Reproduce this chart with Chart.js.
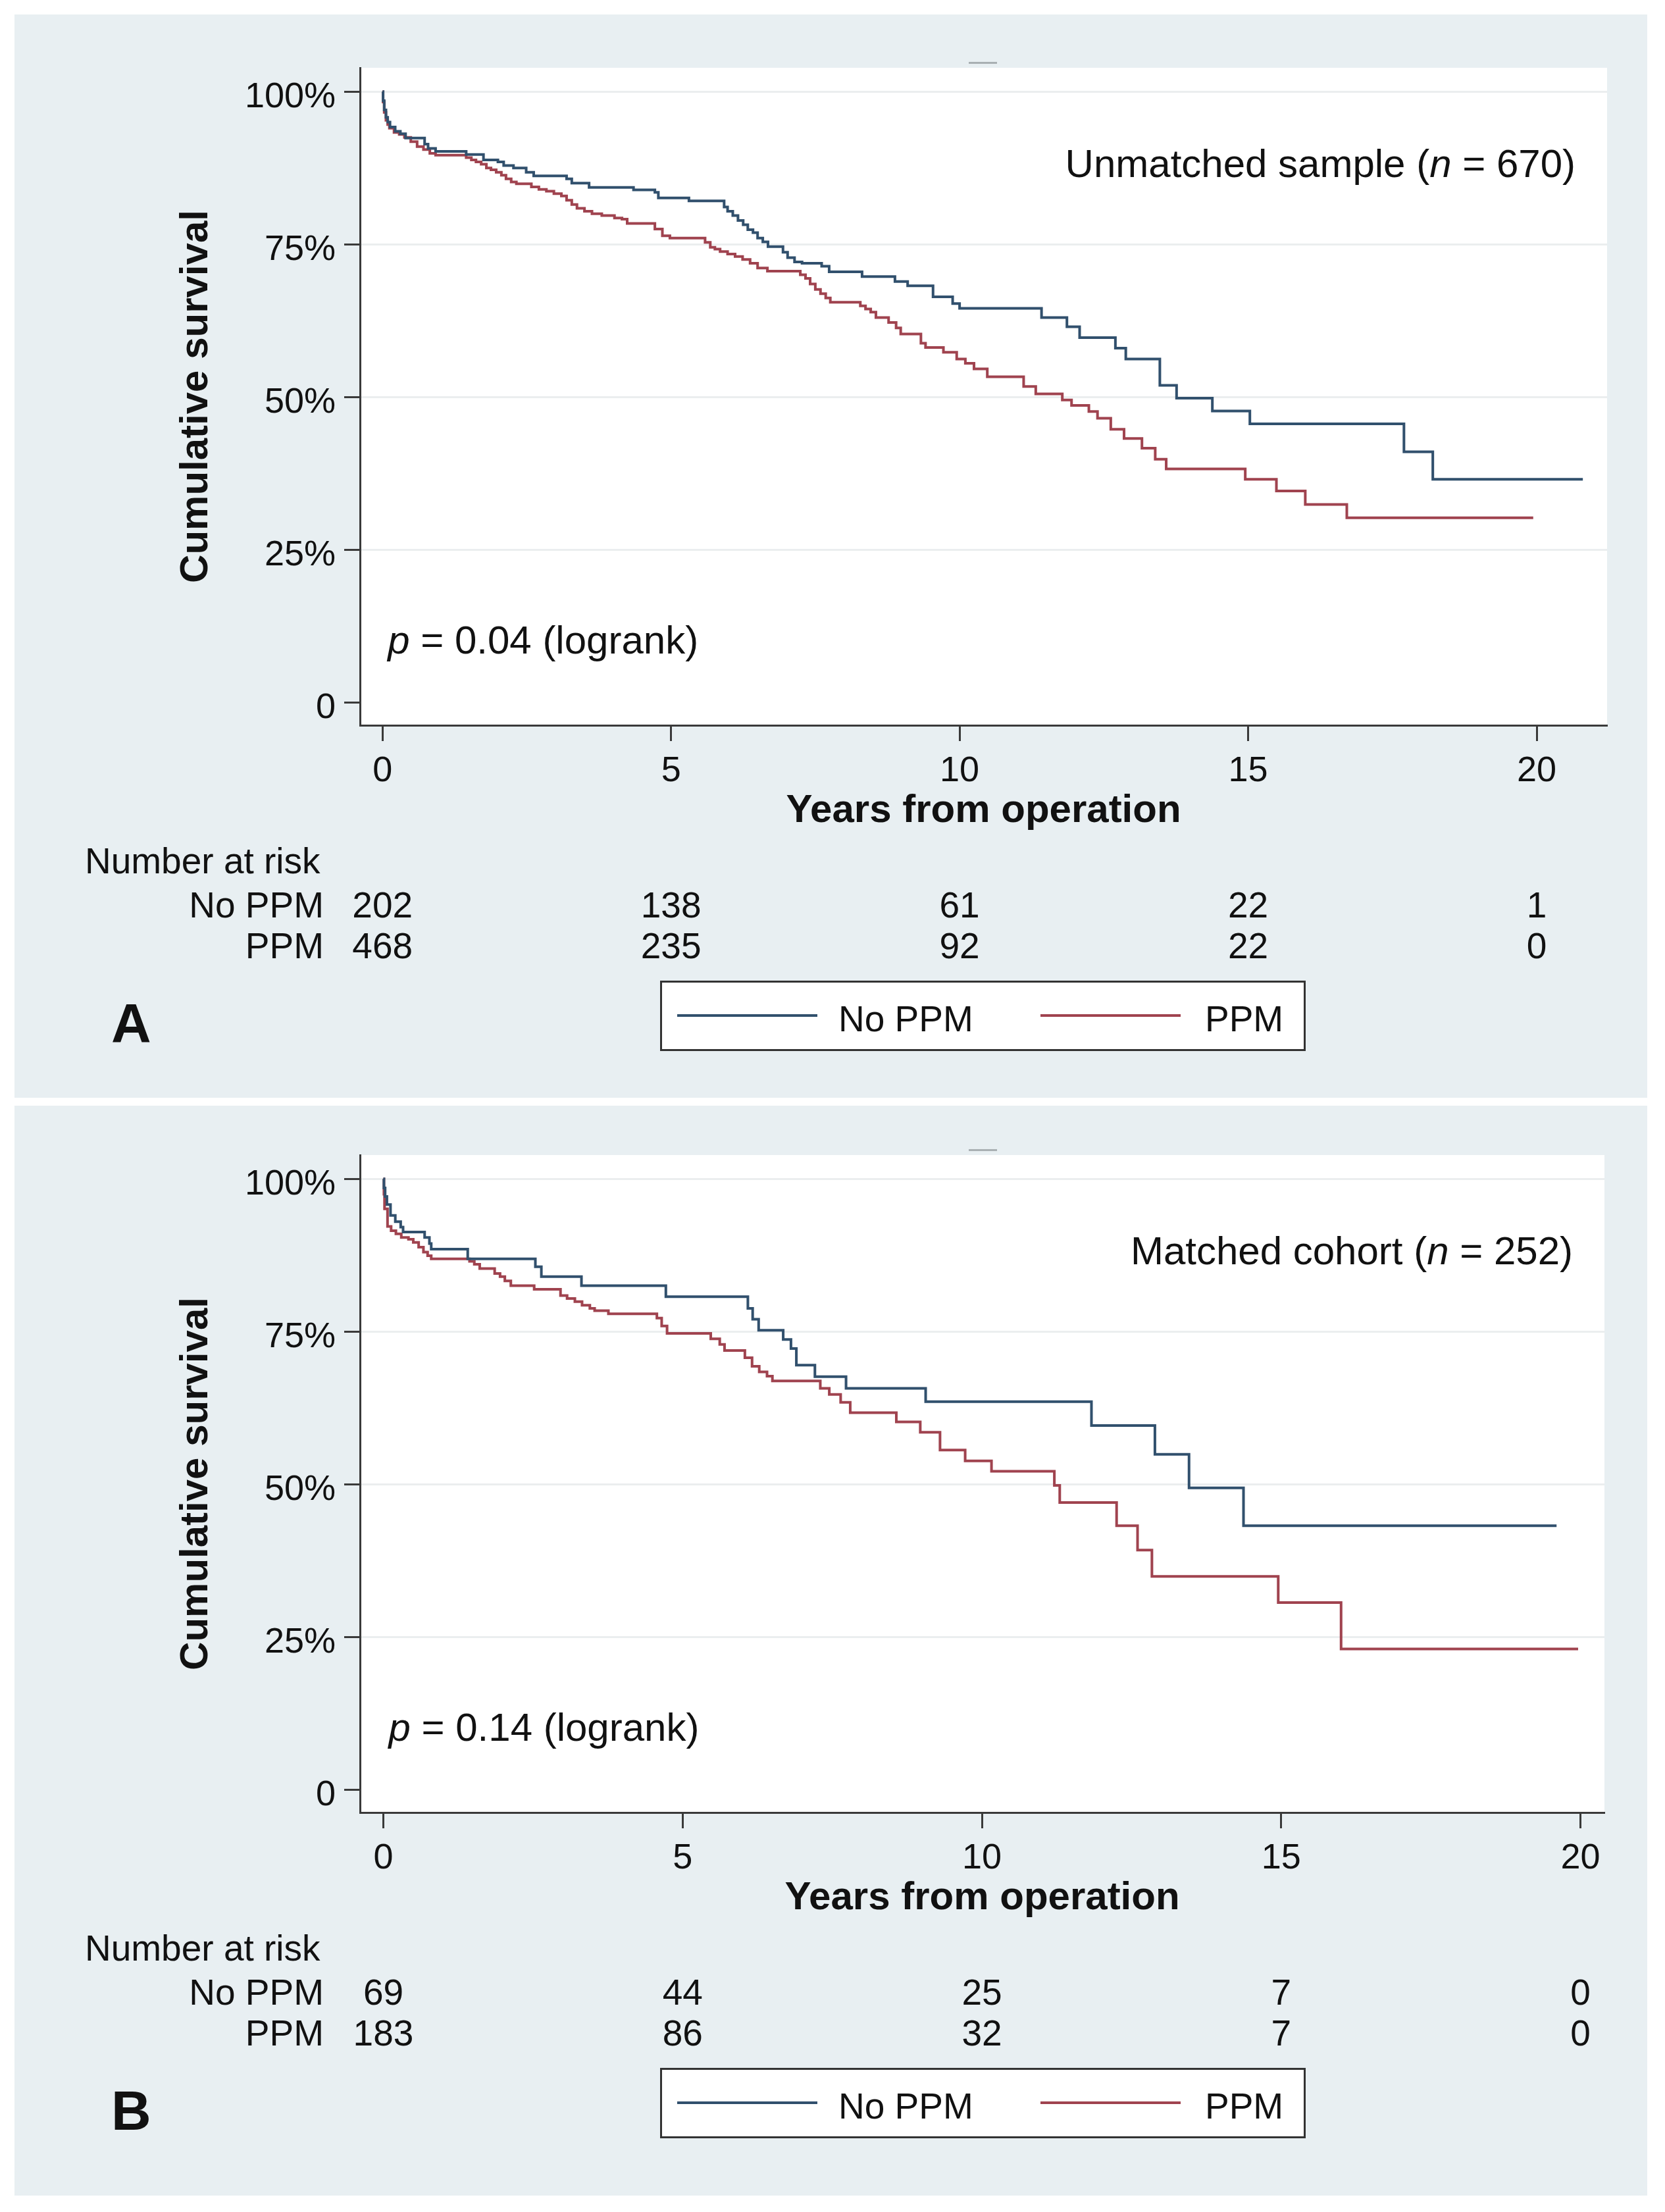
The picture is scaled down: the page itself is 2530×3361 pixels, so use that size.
<!DOCTYPE html>
<html>
<head>
<meta charset="utf-8">
<script src="https://cdn.jsdelivr.net/npm/chart.js@4"></script>
<style>
  html, body { margin:0; padding:0; background:#ffffff; }
  body { width:2530px; height:3361px; position:relative; overflow:hidden; font-family:'Liberation Sans', Arial, sans-serif; color:#111; }
  .panel { position:absolute; left:22px; width:2481px; background:#e8eff2; }
  canvas { position:absolute; left:0; }
  .t { position:absolute; white-space:nowrap; }
  .legend { position:absolute; background:#fff; border:3px solid #333; box-sizing:border-box; }
  .dash { position:absolute; height:3px; background:#a9b0b3; }
</style>
</head>
<body>
<div class="panel" style="top:22px;height:1646px"></div>
<div class="panel" style="top:1680px;height:1656px"></div>
<canvas id="cA" width="2530" height="1674" style="top:0px;width:2530px;height:1674px"></canvas>
<canvas id="cB" width="2530" height="1674" style="top:1652px;width:2530px;height:1674px"></canvas>
<script>
// ---------- data ----------
const xTicks = [0, 5, 10, 15, 20];
const yTicks = [0, 25, 50, 75, 100];
const yTickLabels = ['0', '25%', '50%', '75%', '100%'];
const groupNames = ['No PPM', 'PPM'];

// Panel A: unmatched sample (years, cumulative survival %)
const tA_noPPM = [0, 0.01, 0.03, 0.06, 0.09, 0.13, 0.22, 0.31, 0.4, 0.73, 0.79, 0.92, 1.45, 1.75, 2.0, 2.1, 2.27, 2.49, 2.62, 3.19, 3.28, 3.58, 4.35, 4.72, 4.78, 5.31, 5.92, 5.98, 6.07, 6.16, 6.25, 6.33, 6.42, 6.5, 6.59, 6.68, 6.94, 7.02, 7.14, 7.27, 7.61, 7.74, 8.31, 8.88, 9.1, 9.54, 9.88, 10.0, 11.42, 11.86, 12.08, 12.7, 12.88, 13.47, 13.76, 14.38, 15.03, 17.7, 18.2, 20.8];
const sA_noPPM = [100, 98.5, 97.0, 95.8, 95.0, 94.2, 93.5, 93.1, 92.4, 91.4, 90.7, 90.2, 89.7, 88.8, 88.5, 87.9, 87.5, 86.8, 86.2, 85.7, 85.0, 84.3, 83.9, 83.5, 82.6, 82.1, 81.1, 80.4, 79.7, 78.9, 78.2, 77.4, 76.9, 76.0, 75.4, 74.6, 73.7, 72.8, 72.1, 71.9, 71.4, 70.5, 69.7, 68.9, 68.2, 66.4, 65.3, 64.5, 63.0, 61.5, 59.7, 58.0, 56.2, 51.9, 49.8, 47.7, 45.6, 41.0, 36.5, 36.5];
const tA_PPM = [0, 0.01, 0.03, 0.06, 0.09, 0.12, 0.2, 0.29, 0.38, 0.49, 0.6, 0.71, 0.82, 0.92, 1.45, 1.54, 1.62, 1.71, 1.8, 1.88, 1.97, 2.06, 2.14, 2.23, 2.32, 2.58, 2.71, 2.84, 2.97, 3.1, 3.19, 3.28, 3.37, 3.5, 3.63, 3.8, 4.02, 4.15, 4.24, 4.72, 4.85, 4.98, 5.59, 5.68, 5.76, 5.85, 5.98, 6.11, 6.24, 6.37, 6.5, 6.67, 7.24, 7.33, 7.41, 7.5, 7.59, 7.68, 7.76, 8.28, 8.37, 8.46, 8.55, 8.77, 8.9, 8.98, 9.33, 9.41, 9.72, 9.95, 10.1, 10.25, 10.48, 11.11, 11.32, 11.78, 11.94, 12.24, 12.39, 12.62, 12.85, 13.16, 13.39, 13.58, 14.95, 15.49, 15.99, 16.71, 19.94];
const sA_PPM = [100, 98.3, 96.6, 95.3, 94.6, 94.0, 93.3, 93.0, 92.5, 91.8, 91.0, 90.5, 89.9, 89.6, 89.2, 88.8, 88.5, 88.1, 87.5, 87.2, 86.8, 86.3, 85.7, 85.2, 84.9, 84.4, 84.0, 83.7, 83.3, 82.9, 82.2, 81.5, 80.9, 80.4, 80.0, 79.7, 79.3, 79.1, 78.4, 77.5, 76.4, 76.0, 75.3, 74.5, 74.2, 73.8, 73.4, 73.0, 72.5, 71.9, 71.1, 70.6, 70.0, 69.4, 68.5, 67.6, 66.9, 66.2, 65.5, 64.9, 64.4, 63.9, 63.0, 62.2, 61.3, 60.3, 58.8, 58.1, 57.3, 56.2, 55.5, 54.6, 53.3, 51.7, 50.5, 49.5, 48.6, 47.6, 46.5, 44.7, 43.2, 41.6, 39.8, 38.2, 36.5, 34.6, 32.4, 30.2, 30.2];

// Panel B: matched cohort
const tB_noPPM = [0, 0.01, 0.03, 0.06, 0.12, 0.2, 0.29, 0.33, 0.69, 0.77, 0.8, 1.41, 2.54, 2.64, 3.31, 4.72, 6.09, 6.17, 6.27, 6.68, 6.81, 6.9, 7.21, 7.73, 9.06, 11.83, 12.89, 13.46, 14.37, 19.6];
const sB_noPPM = [100, 98.5, 97.1, 95.8, 94.0, 93.0, 92.1, 91.3, 90.4, 89.4, 88.5, 86.9, 85.6, 84.0, 82.5, 80.7, 78.8, 77.0, 75.2, 73.7, 72.2, 69.5, 67.6, 65.7, 63.5, 59.6, 54.9, 49.4, 43.2, 43.2];
const tB_PPM = [0, 0.01, 0.02, 0.07, 0.13, 0.21, 0.3, 0.42, 0.5, 0.59, 0.67, 0.74, 0.8, 1.44, 1.52, 1.61, 1.86, 1.95, 2.03, 2.13, 2.52, 2.96, 3.07, 3.2, 3.32, 3.45, 3.53, 3.76, 4.57, 4.65, 4.74, 5.47, 5.62, 5.7, 6.04, 6.16, 6.28, 6.41, 6.5, 7.3, 7.45, 7.64, 7.8, 8.57, 8.97, 9.3, 9.72, 10.16, 11.21, 11.3, 12.25, 12.6, 12.84, 14.95, 16.0, 19.96];
const sB_PPM = [100, 97.5, 95.1, 92.2, 91.5, 91.0, 90.4, 90.1, 89.6, 88.8, 88.0, 87.4, 86.9, 86.5, 86.0, 85.3, 84.5, 84.0, 83.3, 82.5, 81.9, 80.9, 80.4, 79.9, 79.3, 78.8, 78.4, 77.9, 77.2, 75.9, 74.7, 73.8, 72.9, 71.9, 70.7, 69.3, 68.4, 67.7, 66.9, 65.7, 64.7, 63.4, 61.7, 60.2, 58.5, 55.6, 53.8, 52.1, 49.8, 47.0, 43.2, 39.2, 34.9, 30.6, 23.0, 23.0];

// Number at risk at the x ticks
const riskA_noPPM = [202, 138, 61, 22, 1];
const riskA_PPM = [468, 235, 92, 22, 0];
const riskB_noPPM = [69, 44, 25, 7, 0];
const riskB_PPM = [183, 86, 32, 7, 0];

// ---------- style ----------
const FONT = "'Liberation Sans', Arial, Helvetica, sans-serif";
const BLUE = '#31506d';
const RED = '#a0434f';
const AX = '#3a3a3a';
const GRID = '#ebeeef';
const TXT = '#111111';

const plotBg = {
  id: 'plotBg',
  beforeDraw(chart) {
    const { ctx, chartArea: a } = chart;
    ctx.save();
    ctx.fillStyle = '#ffffff';
    ctx.fillRect(a.left, a.top, a.right - a.left, a.bottom - a.top);
    ctx.restore();
  }
};

function pts(t, s) { return t.map((v, i) => ({ x: v, y: s[i] })); }

function addText(html, o) {
  const d = document.createElement('div');
  d.className = 't';
  d.innerHTML = html;
  const size = o.size || 55;
  d.style.fontSize = size + 'px';
  d.style.lineHeight = (size * 1.2) + 'px';
  d.style.top = (o.cy - size * 0.6) + 'px';
  if (o.weight) d.style.fontWeight = o.weight;
  if (o.align === 'right') { d.style.right = (2530 - o.x) + 'px'; d.style.textAlign = 'right'; }
  else if (o.align === 'center') { d.style.left = (o.x - 300) + 'px'; d.style.width = '600px'; d.style.textAlign = 'center'; }
  else { d.style.left = o.x + 'px'; }
  document.body.appendChild(d);
  return d;
}

function makePanel(p) {
  const chart = new Chart(document.getElementById(p.canvas), {
    type: 'line',
    data: {
      datasets: [
        { label: groupNames[0], data: pts(p.t0, p.s0), borderColor: BLUE, backgroundColor: BLUE, borderWidth: 4, pointRadius: 0, stepped: true, fill: false },
        { label: groupNames[1], data: pts(p.t1, p.s1), borderColor: RED, backgroundColor: RED, borderWidth: 4, pointRadius: 0, stepped: true, fill: false }
      ]
    },
    options: {
      responsive: false,
      animation: false,
      devicePixelRatio: 1,
      events: [],
      layout: { padding: { left: 0, right: p.padRight, top: 103, bottom: 1674 - 1268 } },
      plugins: { legend: { display: false }, tooltip: { enabled: false } },
      scales: {
        x: {
          type: 'linear', min: -0.39, max: p.xMax,
          afterBuildTicks: s => { s.ticks = xTicks.map(v => ({ value: v })); },
          afterFit: s => { s.height = 166; },
          grid: { drawOnChartArea: false, drawTicks: true, tickLength: 24, tickColor: AX, tickWidth: 3 },
          border: { display: true, color: AX, width: 3 },
          ticks: { font: { family: FONT, size: 54 }, color: TXT, padding: 14, maxRotation: 0, autoSkip: false, callback: v => String(v) },
          title: { display: true, text: 'Years from operation', color: TXT, font: { family: FONT, size: 60, weight: 'bold' }, padding: { top: 0, bottom: 0 } }
        },
        y: {
          type: 'linear', min: -3.77, max: 103.9,
          afterBuildTicks: s => { s.ticks = yTicks.map(v => ({ value: v })); },
          afterFit: s => { s.width = 547; },
          grid: {
            color: c => (c.tick && c.tick.value === 0) ? 'rgba(0,0,0,0)' : GRID,
            lineWidth: 3, drawTicks: true, tickLength: 24, tickColor: AX, tickWidth: 3
          },
          border: { display: true, color: AX, width: 3 },
          ticks: { font: { family: FONT, size: 54 }, color: TXT, padding: 13, labelOffset: 9, autoSkip: false, callback: v => yTickLabels[yTicks.indexOf(v)] },
          title: { display: true, text: 'Cumulative survival', color: TXT, font: { family: FONT, size: 60, weight: 'bold' }, padding: { top: 262, bottom: 0 } }
        }
      }
    },
    plugins: [plotBg]
  });

  const oy = p.top;
  const a = chart.chartArea;
  const xs = chart.scales.x;
  // small header mark
  const dash = document.createElement('div');
  dash.className = 'dash';
  dash.style.left = '1472px'; dash.style.width = '43px'; dash.style.top = (oy + 94) + 'px';
  document.body.appendChild(dash);

  // annotations inside plot
  addText(p.sampleHtml, { x: a.right - 48, cy: oy + a.top + 146, size: 60, align: 'right' });
  addText(p.pHtml, { x: xs.getPixelForValue(0) + 8, cy: oy + 973, size: 60 });

  // number at risk table
  addText('Number at risk', { x: 129, cy: oy + 1308, size: 55 });
  const rows = [p.r0, p.r1];
  const rowY = [1375, 1437];
  rows.forEach((vals, r) => {
    addText(groupNames[r], { x: 492, cy: oy + rowY[r], size: 55, align: 'right' });
    vals.forEach((v, i) => addText(String(v), { x: xs.getPixelForValue(xTicks[i]), cy: oy + rowY[r], size: 55, align: 'center' }));
  });

  // legend box
  const lg = document.createElement('div');
  lg.className = 'legend';
  lg.style.left = '1003px'; lg.style.top = (oy + 1490) + 'px';
  lg.style.width = '981px'; lg.style.height = '107px';
  document.body.appendChild(lg);
  const sampleX = [1029, 1581];
  const labelX = [1274, 1831];
  chart.data.datasets.forEach((ds, i) => {
    const ln = document.createElement('div');
    ln.style.position = 'absolute';
    ln.style.left = sampleX[i] + 'px'; ln.style.width = '213px';
    ln.style.top = (oy + 1541) + 'px'; ln.style.height = '4px';
    ln.style.background = ds.borderColor;
    document.body.appendChild(ln);
    addText(ds.label, { x: labelX[i], cy: oy + 1548, size: 55 });
  });

  // panel letter
  addText(p.letter, { x: 169, cy: oy + 1555, size: 84, weight: 'bold' });
  return chart;
}

makePanel({
  canvas: 'cA', top: 0, xMax: 21.22, padRight: 88,
  t0: tA_noPPM, s0: sA_noPPM, t1: tA_PPM, s1: sA_PPM,
  r0: riskA_noPPM, r1: riskA_PPM,
  sampleHtml: 'Unmatched sample (<i>n</i> = 670)',
  pHtml: '<i>p</i> = 0.04 (logrank)',
  letter: 'A'
});
makePanel({
  canvas: 'cB', top: 1652, xMax: 20.40, padRight: 92,
  t0: tB_noPPM, s0: sB_noPPM, t1: tB_PPM, s1: sB_PPM,
  r0: riskB_noPPM, r1: riskB_PPM,
  sampleHtml: 'Matched cohort (<i>n</i> = 252)',
  pHtml: '<i>p</i> = 0.14 (logrank)',
  letter: 'B'
});
</script>
</body>
</html>
